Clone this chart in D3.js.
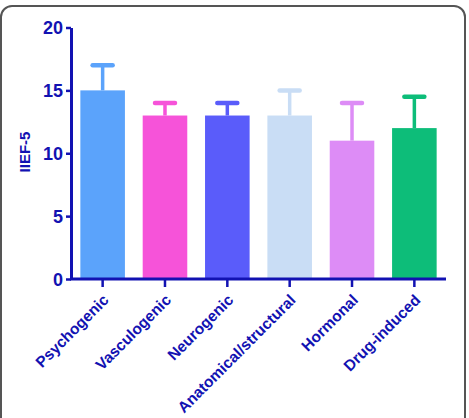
<!DOCTYPE html>
<html><head><meta charset="utf-8">
<script src="https://cdn.jsdelivr.net/npm/d3@7"></script>
<style>body{margin:0;background:#fff;}svg{display:block;}</style>
</head><body>
<script>
const categories = ["Psychogenic","Vasculogenic","Neurogenic","Anatomical/structural","Hormonal","Drug-induced"];
const means = [15, 13, 13, 13, 11, 12];
const upperErr = [17, 14, 14, 15, 14, 14.5];
const colors = ["#5ba3fb","#f653d9","#5a5cfa","#c9ddf5","#dd8cf6","#0dbd79"];
const yTicks = [0,5,10,15,20];
const axisColor = "#1212b2";

const W = 469, H = 418;
const svg = d3.select("body").append("svg").attr("width", W).attr("height", H);

// frame
svg.append("rect").attr("x",1).attr("y",6).attr("width",464).attr("height",440)
  .attr("rx",11).attr("fill","none").attr("stroke","#555").attr("stroke-width",2);

const x0 = 71, x1 = 446, yTop = 27.5, yBot = 279;
const x = d3.scaleBand().domain(categories).range([x0, x1]).paddingInner(0.285).paddingOuter(0.15);
const y = d3.scaleLinear().domain([0,20]).range([yBot, yTop]);

const g = svg.append("g");
// bars
g.selectAll("rect.bar").data(categories).join("rect")
  .attr("x", d => x(d)).attr("width", x.bandwidth())
  .attr("y", (d,i) => y(means[i])).attr("height", (d,i) => y(0) - y(means[i]))
  .attr("fill", (d,i) => colors[i]);
// error bars
g.selectAll("line.err").data(categories).join("line")
  .attr("x1", d => x(d) + x.bandwidth()/2).attr("x2", d => x(d) + x.bandwidth()/2)
  .attr("y1", (d,i) => y(means[i])).attr("y2", (d,i) => y(upperErr[i]))
  .attr("stroke", (d,i) => colors[i]).attr("stroke-width", 3.5);
g.selectAll("line.cap").data(categories).join("line")
  .attr("x1", d => x(d) + x.bandwidth()/2 - 10).attr("x2", d => x(d) + x.bandwidth()/2 + 10)
  .attr("y1", (d,i) => y(upperErr[i])).attr("y2", (d,i) => y(upperErr[i]))
  .attr("stroke", (d,i) => colors[i]).attr("stroke-width", 4.5).attr("stroke-linecap","round");

// y axis
const ya = svg.append("g").attr("transform", `translate(${x0},0)`)
  .call(d3.axisLeft(y).tickValues(yTicks).tickSize(5).tickPadding(3).tickSizeOuter(0));
ya.select(".domain").attr("stroke", axisColor).attr("stroke-width", 3);
ya.selectAll(".tick line").attr("stroke", axisColor).attr("stroke-width", 2.5);
ya.selectAll(".tick text").attr("fill", axisColor).attr("font-family","Liberation Sans, Arial, sans-serif")
  .attr("font-weight","bold").attr("font-size", 18).attr("dy","0.34em");

// x axis
const xa = svg.append("g").attr("transform", `translate(0,${yBot})`)
  .call(d3.axisBottom(x).tickSize(8).tickSizeOuter(0));
xa.select(".domain").attr("stroke", axisColor).attr("stroke-width", 3).attr("d", `M${x0-1},0H${x1}`);
xa.selectAll(".tick line").attr("stroke", axisColor).attr("stroke-width", 2.5);
xa.selectAll(".tick text").attr("fill", axisColor).attr("font-family","Liberation Sans, Arial, sans-serif")
  .attr("font-weight","bold").attr("font-size", 15.5)
  .attr("text-anchor","end").attr("dy", null).attr("y", 0)
  .attr("transform","translate(7,22) rotate(-45)");

// y label
svg.append("text").attr("transform","translate(30,152) rotate(-90)")
  .attr("text-anchor","middle").attr("fill", axisColor)
  .attr("font-family","Liberation Sans, Arial, sans-serif").attr("font-weight","bold").attr("font-size",15)
  .text("IIEF-5");
</script>
</body></html>
